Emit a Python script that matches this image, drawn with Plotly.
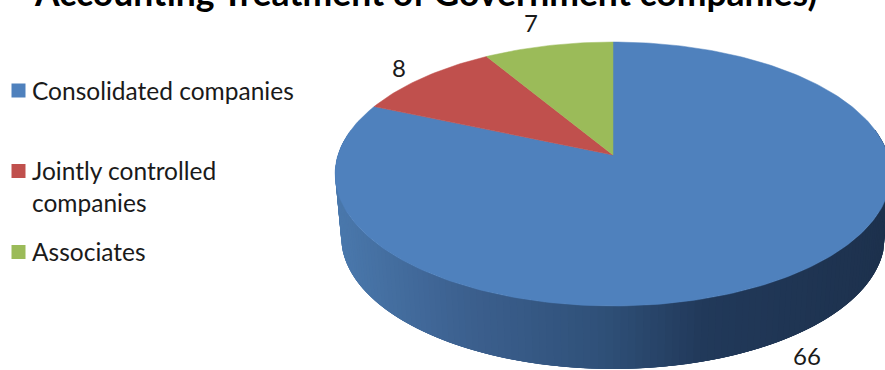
import math
import plotly.graph_objects as go

# Listed companies by accounting treatment
categories = ["Consolidated companies", "Jointly controlled<br>companies", "Associates"]
values = [66, 8, 7]
colors = ["#4F81BD", "#C0504D", "#9BBB59"]
title = "Accounting Treatment of Government companies)"

WIDTH, HEIGHT = 885, 370
CX = 613
APEX_Y = 155       # screen y of the pie centre
TOP_Y = 42         # far rim
NEAR_Y = 306       # near rim
RADIUS = 275
DEPTH = 63         # thickness of the disc at the near rim

# Perspective tilt solved from the three rim readings
PERSP = ((2 * APEX_Y) - (TOP_Y + NEAR_Y)) / (TOP_Y - NEAR_Y)
SLOPE = TOP_Y + TOP_Y * PERSP - APEX_Y


def project(theta, drop=0.0, shrink=1.0):
    """Map an angle on the disc (clockwise from 12 o'clock) to screen pixels."""
    v = math.cos(theta)
    w = 1 + PERSP * v
    x = CX + shrink * RADIUS * math.sin(theta) / w
    y = (APEX_Y + SLOPE * v) / w + drop
    return x, y


def arc(start, end, steps, **kw):
    return [project(start + (end - start) * i / steps, **kw) for i in range(steps + 1)]


def side_color(x):
    """Horizontal shading of the disc wall, light at the left, dark at the right."""
    stops = [(335, (74, 120, 172)), (460, (60, 96, 143)), (600, (47, 80, 120)),
             (700, (33, 57, 90)), (885, (29, 49, 77))]
    for (x0, c0), (x1, c1) in zip(stops, stops[1:]):
        if x <= x1:
            t = max(0.0, (x - x0) / (x1 - x0))
            return "rgb(%d,%d,%d)" % tuple(round(a + (b - a) * t) for a, b in zip(c0, c1))
    return "rgb(%d,%d,%d)" % stops[-1][1]


fig = go.Figure()
total = sum(values)

# Wall of the disc: the near half of the rim runs from 3 o'clock to 9 o'clock, so walk it
# backwards (left to right) and let each strip overlap the next to hide seams
n_strips = 150
wall_from = 3 * math.pi / 2 + 0.2
wall_span = math.pi + 0.4
for i in range(n_strips):
    a0 = wall_from - wall_span * i / n_strips
    a1 = wall_from - wall_span * min(n_strips, i + 4) / n_strips
    upper = arc(a0, a1, 4)
    lower = arc(a1, a0, 4, drop=DEPTH, shrink=0.978)
    pts = upper + lower
    col = side_color(upper[0][0])
    fig.add_trace(go.Scatter(
        x=[p[0] for p in pts], y=[p[1] for p in pts], mode="lines", fill="toself",
        fillcolor=col, line=dict(width=0), hoverinfo="skip", showlegend=False,
    ))

# Top face: slices run clockwise from 12 o'clock
start = 0.0
for name, val, col in zip(categories, values, colors):
    end = start + 2 * math.pi * val / total
    pts = [(CX, APEX_Y)] + arc(start, end, max(8, int(val * 4))) + [(CX, APEX_Y)]
    fig.add_trace(go.Scatter(
        x=[p[0] for p in pts], y=[p[1] for p in pts], mode="lines", fill="toself",
        fillcolor=col, line=dict(color=col, width=0.5), name=name.replace("<br>", " "),
        hoverinfo="name", showlegend=False,
    ))
    start = end

# Legend swatches
legend_y = [90.5, 171, 252]
fig.add_trace(go.Scatter(
    x=[18.5] * 3, y=legend_y, mode="markers",
    marker=dict(symbol="square", size=14, color=colors),
    hoverinfo="skip", showlegend=False,
))

annotations = []
for name, y, wrapped in zip(categories, legend_y, [False, True, False]):
    annotations.append(dict(
        x=30, y=y + (15.5 if wrapped else -0.5), xref="x", yref="y", text=name, showarrow=False,
        xanchor="left", yanchor="middle", align="left",
        font=dict(family="Lato", size=24.5, color="#1a1a1a"),
    ))

# Value labels
for val, lx, ly in zip(values, [807, 399, 531], [355, 67, 22]):
    annotations.append(dict(
        x=lx, y=ly, xref="x", yref="y", text=str(val), showarrow=False,
        font=dict(family="Lato", size=24, color="#1a1a1a"),
    ))

# Title sits at the very top of the page, running past its upper edge
annotations.append(dict(
    x=425 / WIDTH, y=1, xref="paper", yref="paper", yanchor="top", yshift=31,
    text="<b>%s</b>" % title, showarrow=False,
    font=dict(family="Lato", size=35.5, color="#000000"),
))

fig.update_layout(
    width=WIDTH, height=HEIGHT, margin=dict(l=0, r=0, t=0, b=0),
    paper_bgcolor="white", plot_bgcolor="white", showlegend=False,
    xaxis=dict(range=[0, WIDTH], visible=False, fixedrange=True),
    yaxis=dict(range=[HEIGHT, 0], visible=False, fixedrange=True),
    annotations=annotations,
)

fig.write_html("out.html", config={"displayModeBar": False})
